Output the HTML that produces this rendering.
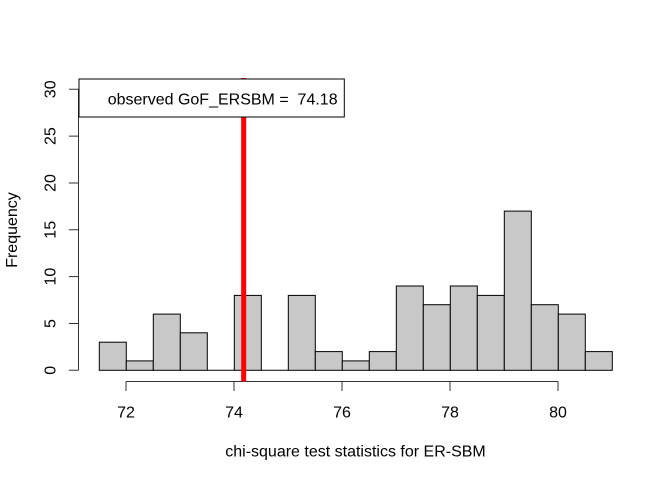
<!DOCTYPE html>
<html><head><meta charset="utf-8"><style>
html,body{margin:0;padding:0;background:#fff;}
svg{display:block;}
text{font-family:"Liberation Sans",Arial,sans-serif;font-size:16px;fill:#000;}
</style></head><body>
<svg width="672" height="480" viewBox="0 0 672 480" xmlns="http://www.w3.org/2000/svg">
<rect width="672" height="480" fill="#fff"/>
<g fill="#c8c8c8" stroke="#000" stroke-width="1">
<rect x="99.3" y="342.2" width="27" height="28.1"/>
<rect x="126.3" y="360.9" width="27" height="9.4"/>
<rect x="153.3" y="314.1" width="27" height="56.2"/>
<rect x="180.3" y="332.8" width="27" height="37.5"/>
<rect x="234.3" y="295.4" width="27" height="74.9"/>
<rect x="288.3" y="295.4" width="27" height="74.9"/>
<rect x="315.3" y="351.6" width="27" height="18.7"/>
<rect x="342.3" y="360.9" width="27" height="9.4"/>
<rect x="369.3" y="351.6" width="27" height="18.7"/>
<rect x="396.3" y="286.0" width="27" height="84.3"/>
<rect x="423.3" y="304.7" width="27" height="65.6"/>
<rect x="450.3" y="286.0" width="27" height="84.3"/>
<rect x="477.3" y="295.4" width="27" height="74.9"/>
<rect x="504.3" y="211.1" width="27" height="159.2"/>
<rect x="531.3" y="304.7" width="27" height="65.6"/>
<rect x="558.3" y="314.1" width="27" height="56.2"/>
<rect x="585.3" y="351.6" width="27" height="18.7"/>
</g>
<path d="M207.3 370.3 H234.3 M261.3 370.3 H288.3" stroke="#000" stroke-width="1" fill="none"/>
<g stroke="#333" stroke-width="1" fill="none">
<path d="M126 381.5 H558 M126 381.5 V391 M234 381.5 V391 M342 381.5 V391 M450 381.5 V391 M558 381.5 V391"/>
<path d="M78.5 370.3 V89.3 M78.5 370.3 H68.9 M78.5 323.5 H68.9 M78.5 276.6 H68.9 M78.5 229.8 H68.9 M78.5 183 H68.9 M78.5 136.1 H68.9 M78.5 89.3 H68.9"/>
</g>
<g text-anchor="middle">
<text x="126" y="417.3">72</text>
<text x="234" y="417.3">74</text>
<text x="342" y="417.3">76</text>
<text x="450" y="417.3">78</text>
<text x="558" y="417.3">80</text>
<text transform="translate(55.5,370.3) rotate(-90)">0</text>
<text transform="translate(55.5,323.5) rotate(-90)">5</text>
<text transform="translate(55.5,276.6) rotate(-90)">10</text>
<text transform="translate(55.5,229.8) rotate(-90)">15</text>
<text transform="translate(55.5,183) rotate(-90)">20</text>
<text transform="translate(55.5,136.1) rotate(-90)">25</text>
<text transform="translate(55.5,89.3) rotate(-90)">30</text>
<text x="355.5" y="456.5">chi-square test statistics for ER-SBM</text>
<text transform="translate(17,230) rotate(-90)">Frequency</text>
</g>
<rect x="241.2" y="78" width="5" height="303.5" fill="#ff0000"/>
<rect x="79" y="79" width="265.3" height="38" fill="#fff" stroke="#000" stroke-width="1"/>
<text x="107.7" y="104.3" xml:space="preserve">observed GoF_ERSBM =  74.18</text>
</svg>
</body></html>
